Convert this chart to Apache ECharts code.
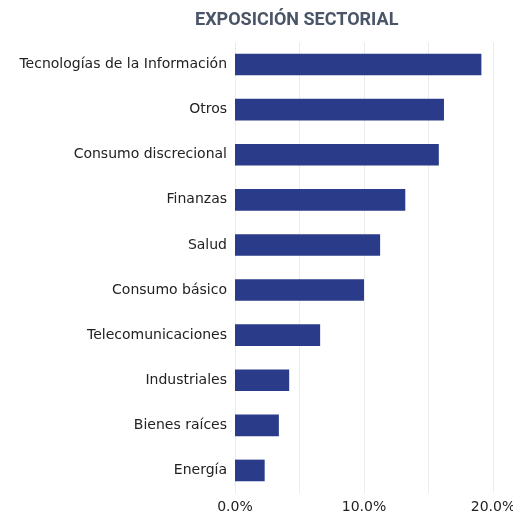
<!DOCTYPE html>
<html>
<head>
    <meta charset="utf-8">
    <title></title>
    <style>
        html, body { margin: 0; padding: 0; background: #fff; }
        #main { width: 513px; height: 514px; }
    </style>
</head>
<body>
    <div id="main"></div>
    <script src="https://cdn.jsdelivr.net/npm/echarts@6/dist/echarts.min.js"></script>
    <script>
    // sectores, de abajo hacia arriba
    var sectores = ['Energía', 'Bienes raíces', 'Industriales', 'Telecomunicaciones', 'Consumo básico',
        'Salud', 'Finanzas', 'Consumo discrecional', 'Otros', 'Tecnologías de la Información'];
    var pesos = [2.3, 3.4, 4.2, 6.6, 10.0, 11.25, 13.2, 15.8, 16.2, 19.1];

    var myChart = echarts.init(document.getElementById('main'));
    var option = {
        animation: false,
        title: {
            text: 'EXPOSICIÓN SECTORIAL',
            left: 190,
            top: 6,
            textStyle: {
                fontFamily: 'Roboto',
                fontWeight: 'bold',
                fontSize: 18,
                color: '#4a5568'
            }
        },
        grid: {
            left: 235,
            right: 20,
            top: 42,
            bottom: 21,
            outerBoundsMode: 'none'
        },
        xAxis: {
            type: 'value',
            min: 0,
            max: 20,
            interval: 5,
            axisLine: { show: false },
            axisTick: { show: false },
            splitLine: { lineStyle: { color: '#ececec', width: 1 } },
            axisLabel: {
                margin: 7,
                fontFamily: 'DejaVu Sans',
                fontSize: 14,
                color: '#222',
                formatter: function (v) {
                    return v % 10 === 0 ? v.toFixed(1) + '%' : '';
                }
            }
        },
        yAxis: {
            type: 'category',
            data: sectores,
            axisLine: { show: false },
            axisTick: { show: false },
            axisLabel: {
                margin: 8,
                fontFamily: 'DejaVu Sans',
                fontSize: 14,
                color: '#222'
            }
        },
        series: [{
            type: 'bar',
            data: pesos,
            barWidth: '48%',
            itemStyle: { color: '#2a3b8a' }
        }]
    };
    myChart.setOption(option);
    </script>
</body>
</html>
